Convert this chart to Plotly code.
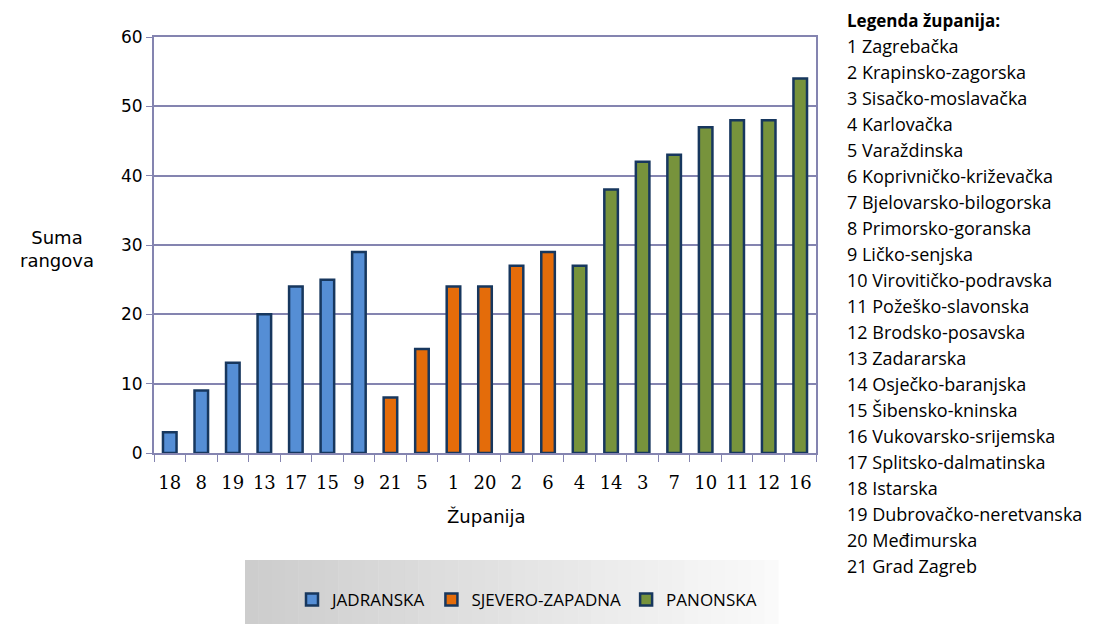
import plotly.graph_objects as go

# Data
order = ["18", "8", "19", "13", "17", "15", "9", "21", "5", "1", "20", "2", "6",
         "4", "14", "3", "7", "10", "11", "12", "16"]
jadranska_x = ["18", "8", "19", "13", "17", "15", "9"]
jadranska_y = [3, 9, 13, 20, 24, 25, 29]
sz_x = ["21", "5", "1", "20", "2", "6"]
sz_y = [8, 15, 24, 24, 27, 29]
panonska_x = ["4", "14", "3", "7", "10", "11", "12", "16"]
panonska_y = [27, 38, 42, 43, 47, 48, 48, 54]

legend_title = "Legenda županija:"
zupanije = ["1 Zagrebačka", "2 Krapinsko-zagorska", "3 Sisačko-moslavačka", "4 Karlovačka",
            "5 Varaždinska", "6 Koprivničko-križevačka", "7 Bjelovarsko-bilogorska",
            "8 Primorsko-goranska", "9 Ličko-senjska", "10 Virovitičko-podravska",
            "11 Požeško-slavonska", "12 Brodsko-posavska", "13 Zadararska",
            "14 Osječko-baranjska", "15 Šibensko-kninska", "16 Vukovarsko-srijemska",
            "17 Splitsko-dalmatinska", "18 Istarska", "19 Dubrovačko-neretvanska",
            "20 Međimurska", "21 Grad Zagreb"]

OFF = 8  # page body margin
W, H = 1095 - OFF, 624 - OFF
L, R, T, B = 154 - OFF, 816 - OFF, 37 - OFF, 453 - OFF

fig = go.Figure()
outline = dict(color="#17375E", width=2.5)
for name, xs, ys, col in [("JADRANSKA", jadranska_x, jadranska_y, "#558ED5"),
                          ("SJEVERO-ZAPADNA", sz_x, sz_y, "#E46C0A"),
                          ("PANONSKA", panonska_x, panonska_y, "#77933C")]:
    fig.add_trace(go.Bar(x=xs, y=ys, name=name, marker=dict(color=col, line=outline),
                         width=0.43))

axcol = "#8484B0"

def px_x(p):
    return (p - OFF - L) / (R - L)

def px_y(p):
    return (B - (p - OFF)) / (B - T)

shapes = []
# gradient legend box
x0, x1, y0, y1 = 245, 778, 560, 630
n = 40
for i in range(n):
    t = i / (n - 1)
    g = int(205 + (250 - 205) * t)
    shapes.append(dict(type="rect", xref="paper", yref="paper",
                       x0=px_x(x0 + (x1 - x0) * i / n), x1=px_x(x0 + (x1 - x0) * (i + 1) / n + 0.5),
                       y0=px_y(y1), y1=px_y(y0), line=dict(width=0),
                       fillcolor=f"rgb({g},{g},{g})", layer="below"))

annotations = [
    dict(text="Suma<br>rangova", xref="paper", yref="paper", x=px_x(57), y=px_y(249),
         showarrow=False, font=dict(family="DejaVu Sans", size=18, color="#000"),
         xanchor="center", yanchor="middle", align="center"),
    dict(text="Županija", xref="paper", yref="paper", x=px_x(486), y=px_y(517),
         showarrow=False, font=dict(family="DejaVu Sans", size=18, color="#000"),
         xanchor="center", yanchor="middle"),
    dict(text="<b>" + legend_title + "</b>", xref="paper", yref="paper", x=px_x(845), y=px_y(20),
         showarrow=False, font=dict(family="Open Sans", size=17, color="#000"),
         xanchor="left", yanchor="middle"),
]
for i, z in enumerate(zupanije):
    annotations.append(dict(text=z, xref="paper", yref="paper", x=px_x(845), y=px_y(46 + 26 * i),
                            showarrow=False, font=dict(family="Open Sans", size=18, color="#000"),
                            xanchor="left", yanchor="middle"))

fig.update_layout(
    width=W, height=H,
    margin=dict(l=L, r=W - R, t=T, b=H - B, autoexpand=False),
    paper_bgcolor="white", plot_bgcolor="white",
    barmode="overlay",
    showlegend=True,
    legend=dict(orientation="h", x=px_x(527), y=px_y(600), xanchor="center", yanchor="middle",
                bgcolor="rgba(0,0,0,0)", font=dict(family="Open Sans", size=17, color="#000"),
                itemwidth=30, tracegroupgap=0),
    shapes=shapes,
    annotations=annotations,
)
fig.update_xaxes(type="category", categoryorder="array", categoryarray=order,
                 showline=True, linecolor=axcol, linewidth=2, mirror=True,
                 ticks="outside", tickson="boundaries", ticklen=7, tickcolor=axcol,
                 tickangle=0, ticklabelstandoff=12,
                 tickfont=dict(family="DejaVu Serif", size=18, color="#000"),
                 showgrid=False)
fig.update_yaxes(range=[0, 60], dtick=10, showline=True, linecolor=axcol, linewidth=2, mirror=True,
                 ticks="outside", ticklen=6, tickcolor=axcol,
                 gridcolor=axcol, gridwidth=1.5,
                 tickfont=dict(family="DejaVu Sans", size=17, color="#000"))

fig.write_html("out.html")
